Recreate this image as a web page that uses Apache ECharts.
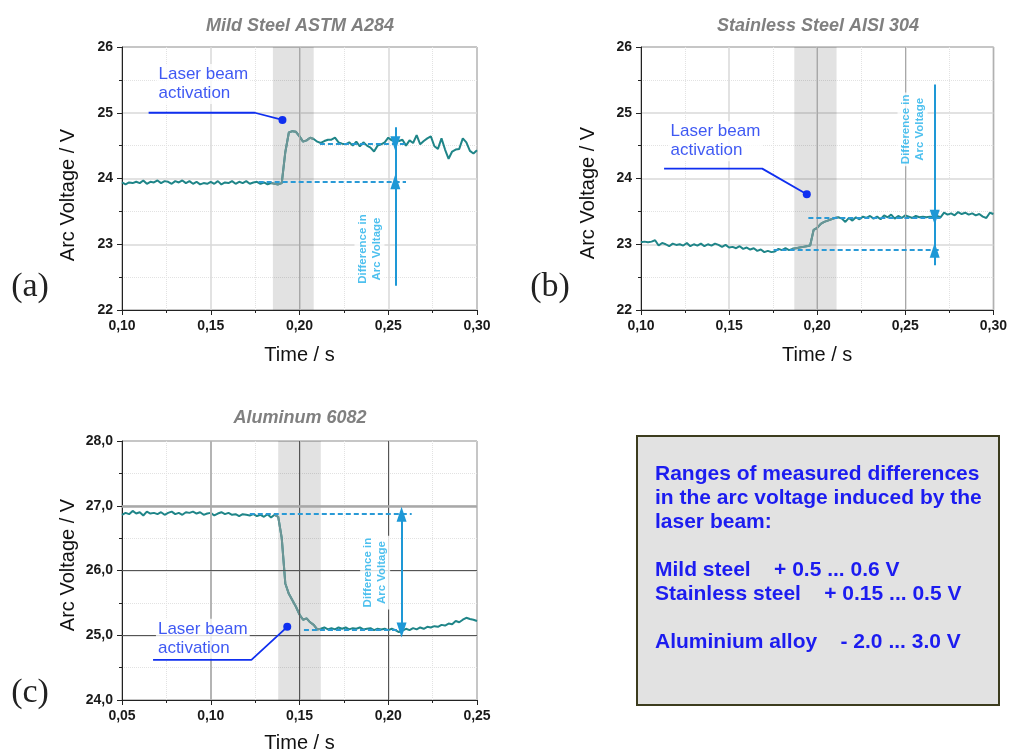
<!DOCTYPE html>
<html>
<head>
<meta charset="utf-8">
<script src="https://cdn.jsdelivr.net/npm/echarts@6.0.0/dist/echarts.min.js"></script>
<style>
  html, body { margin: 0; padding: 0; background: #fff; }
  #main { width: 1010px; height: 754px; }
</style>
</head>
<body>
<div id="main"></div>
<script>
// sampling of the recorded voltage traces
var dt = 0.002;
var timeStartA = 0.10;
var timeStartB = 0.10;
var timeStartC = 0.05;

// (a) mild steel, arc voltage in V, one value every 2 ms from 0.10 s
var voltageA = [
  23.94, 23.91, 23.94, 23.93, 23.95, 23.93, 23.97, 23.92, 23.95, 23.94,
  23.97, 23.93, 23.96, 23.95, 23.92, 23.96, 23.94, 23.97, 23.93, 23.96,
  23.92, 23.95, 23.91, 23.93, 23.92, 23.95, 23.92, 23.96, 23.91, 23.94,
  23.93, 23.96, 23.92, 23.95, 23.93, 23.96, 23.92, 23.94, 23.95, 23.92,
  23.94, 23.91, 23.93, 23.92, 23.91, 23.93, 24.40, 24.70, 24.72, 24.71,
  24.64, 24.56, 24.58, 24.62, 24.60, 24.56, 24.54, 24.57, 24.59, 24.59,
  24.62, 24.55, 24.53, 24.52, 24.55, 24.50, 24.56, 24.49, 24.55, 24.50,
  24.47, 24.41, 24.50, 24.52, 24.55, 24.62, 24.58, 24.61, 24.57, 24.59,
  24.50, 24.58, 24.54, 24.66, 24.52, 24.57, 24.61, 24.64, 24.49, 24.45,
  24.61, 24.44, 24.30, 24.41, 24.44, 24.45, 24.61, 24.55, 24.42, 24.38,
  24.43
];

// (b) stainless steel
var voltageB = [
  23.03, 23.04, 23.03, 23.04, 23.06, 22.98, 23.02, 23.00, 22.97, 23.01,
  22.99, 23.00, 22.98, 23.02, 22.97, 23.00, 22.98, 23.01, 22.97, 23.00,
  22.98, 23.01, 22.99, 22.96, 22.99, 22.95, 22.96, 22.94, 22.97, 22.93,
  22.95, 22.92, 22.94, 22.90, 22.92, 22.88, 22.90, 22.88, 22.89, 22.93,
  22.91, 22.94, 22.91, 22.93, 22.94, 22.95, 22.96, 22.97, 22.98, 23.22,
  23.25, 23.31, 23.34, 23.36, 23.38, 23.40, 23.41, 23.39, 23.34, 23.40,
  23.36, 23.41, 23.38, 23.42, 23.40, 23.43, 23.39, 23.42, 23.38, 23.44,
  23.41, 23.45, 23.39, 23.43, 23.40, 23.44, 23.42, 23.40, 23.43, 23.41,
  23.42, 23.41, 23.42, 23.41, 23.43, 23.41, 23.48, 23.45, 23.47, 23.44,
  23.49, 23.46, 23.48, 23.45, 23.47, 23.44, 23.46, 23.42, 23.40, 23.48,
  23.46
];

// (c) aluminum, from 0.05 s
var voltageC = [
  26.86, 26.89, 26.87, 26.92, 26.88, 26.90, 26.85, 26.91, 26.88, 26.89,
  26.87, 26.90, 26.86, 26.89, 26.91, 26.87, 26.89, 26.86, 26.90, 26.89,
  26.91, 26.88, 26.90, 26.86, 26.88, 26.89, 26.85, 26.88, 26.90, 26.87,
  26.89, 26.86, 26.87, 26.84, 26.87, 26.86, 26.85, 26.87, 26.84, 26.86,
  26.83, 26.87, 26.82, 26.86, 26.83, 26.50, 25.80, 25.64, 25.54, 25.44,
  25.32, 25.24, 25.26, 25.20, 25.16, 25.09, 25.10, 25.12, 25.09, 25.11,
  25.09, 25.12, 25.10, 25.12, 25.09, 25.11, 25.10, 25.12, 25.09, 25.10,
  25.11, 25.08, 25.10, 25.09, 25.10, 25.08, 25.10, 25.08, 25.05, 25.07,
  25.10, 25.08, 25.11, 25.09, 25.12, 25.10, 25.13, 25.12, 25.14, 25.13,
  25.16, 25.15, 25.18, 25.17, 25.22, 25.20, 25.24, 25.27, 25.25, 25.24,
  25.22
];

// laser activation window (s) and the voltage levels before / after it (V)
var laserWindowA = [0.185, 0.208];
var laserWindowB = [0.187, 0.211];
var laserWindowC = [0.138, 0.162];
var levelsA = [23.95, 24.53];
var levelsB = [22.91, 23.41];
var levelsC = [26.87, 25.08];

var summaryLines = [
  'Ranges of measured differences',
  'in the arc voltage induced by the',
  'laser beam:',
  '',
  'Mild steel    + 0.5 ... 0.6 V',
  'Stainless steel    + 0.15 ... 0.5 V',
  '',
  'Aluminium alloy    - 2.0 ... 3.0 V'
];

var FONT = '"Liberation Sans", Arial, Helvetica, sans-serif';
var TEAL = '#1f8588';
var TRANS = '#6c9595';
var BLUE = '#0f2ff0';
var CYAN = '#1e98d6';
var CYAN_TEXT = '#22b0ea';

var panels = [
  {
    letter: '(a)', letterPos: [30, 287],
    title: 'Mild Steel ASTM A284', titlePos: [300, 26],
    yNamePos: [68, 195],
    grid: { left: 122, top: 47, width: 355, height: 263 },
    xMin: 0.10, xMax: 0.30, yMin: 22, yMax: 26, yDigits: 0, xNameGap: 35,
    t0: timeStartA, volt: voltageA, laser: laserWindowA, levels: levelsA,
    dashBefore: [0.177, 0.260], dashAfter: [0.2115, 0.260],
    arrow: { x: 0.254, low: 22.37, high: 24.78 },
    diffText: [0.2397, 22.92], laserText: [0.1197, 25.43],
    leader: [[0.115, 25.0], [0.1748, 25.0], [0.1904, 24.89]],
    darkLines: [{ xAxis: 0.20, color: '#a8a8a8', width: 1 }]
  },
  {
    letter: '(b)', letterPos: [550, 287],
    title: 'Stainless Steel AISI 304', titlePos: [818, 26],
    yNamePos: [588, 193],
    grid: { left: 641, top: 47, width: 355, height: 263 },
    xMin: 0.10, xMax: 0.30, yMin: 22, yMax: 26, yDigits: 0, xNameGap: 35,
    t0: timeStartB, volt: voltageB, laser: laserWindowB, levels: levelsB,
    dashBefore: [0.1753, 0.270], dashAfter: [0.195, 0.270],
    arrow: { x: 0.2667, low: 22.68, high: 25.43 },
    diffText: [0.2544, 24.74], laserText: [0.1159, 24.56],
    leader: [[0.1131, 24.15], [0.1688, 24.15], [0.1941, 23.76]],
    darkLines: [{ xAxis: 0.20, color: '#a8a8a8', width: 1 }, { xAxis: 0.25, color: '#a8a8a8', width: 1 }]
  },
  {
    letter: '(c)', letterPos: [30, 693],
    title: 'Aluminum 6082', titlePos: [300, 418],
    yNamePos: [68, 565],
    grid: { left: 122, top: 441, width: 355, height: 263 },
    xMin: 0.05, xMax: 0.25, yMin: 24, yMax: 28, yDigits: 1, xNameGap: 33,
    t0: timeStartC, volt: voltageC, laser: laserWindowC, levels: levelsC,
    dashBefore: [0.122, 0.2132], dashAfter: [0.1525, 0.2075],
    arrow: { x: 0.2075 },
    diffText: [0.1929, 25.96], laserText: [0.0694, 24.94],
    leader: [[0.0675, 24.62], [0.1229, 24.62], [0.1431, 25.13]],
    darkLines: [
      { yAxis: 27, color: '#a8a8a8', width: 2.5 },
      { yAxis: 26, color: '#555', width: 1 },
      { yAxis: 25, color: '#555', width: 1 },
      { xAxis: 0.10, color: '#b4b4b4', width: 2 },
      { xAxis: 0.15, color: '#555', width: 1 },
      { xAxis: 0.20, color: '#555', width: 1 }
    ]
  }
];

function comma(digits) {
  return function (v) { return v.toFixed(digits).replace('.', ','); };
}

function toPairs(t0, values) {
  return values.map(function (v, i) { return [+(t0 + i * dt).toFixed(4), v]; });
}

function segment(x0, y0, x1, y1, style, endSymbol, startSymbol) {
  return [
    { coord: [x0, y0], symbol: startSymbol || 'none', symbolSize: [10, 15], lineStyle: style },
    { coord: [x1, y1], symbol: endSymbol || 'none', symbolSize: [10, 15] }
  ];
}

var grids = [], xAxes = [], yAxes = [], series = [], graphics = [];

panels.forEach(function (p, i) {
  grids.push(Object.assign({ show: true, borderColor: '#222', borderWidth: 1, backgroundColor: 'transparent' }, p.grid));

  var common = {
    type: 'value', gridIndex: i,
    axisLine: { onZero: false, lineStyle: { color: '#222', width: 1 } },
    axisTick: { length: 5, lineStyle: { color: '#222' } },
    minorTick: { show: true, splitNumber: 2, length: 3, lineStyle: { color: '#222' } },
    splitLine: { show: true, lineStyle: { color: '#d8d8d8', width: 1.5 } },
    minorSplitLine: { show: true, lineStyle: { color: '#e2e2e2', type: 'dotted', width: 1 } }
  };
  xAxes.push(Object.assign({}, common, {
    min: p.xMin, max: p.xMax, interval: 0.05,
    name: 'Time / s', nameLocation: 'middle', nameGap: p.xNameGap,
    nameTextStyle: { fontFamily: FONT, fontSize: 20, color: '#111' },
    axisLabel: { formatter: comma(2), fontFamily: FONT, fontSize: 14, fontWeight: 'bold', color: '#1a1a1a', margin: 9 }
  }));
  yAxes.push(Object.assign({}, common, {
    min: p.yMin, max: p.yMax, interval: 1,
    axisLabel: { formatter: comma(p.yDigits), fontFamily: FONT, fontSize: 14, fontWeight: 'bold', color: '#1a1a1a', margin: 9 }
  }));

  var data = toPairs(p.t0, p.volt);
  var transition = data.filter(function (d) {
    return d[0] >= p.laser[0] - dt && d[0] <= p.laser[1] + dt / 2;
  });

  // dashed levels, arrows and the darker grid lines
  var dash = { color: '#2a9ad6', type: [5, 3], width: 2 };
  var arr = { color: CYAN, type: 'solid', width: 2 };
  var lines = [
    segment(p.dashBefore[0], p.levels[0], p.dashBefore[1], p.levels[0], dash),
    segment(p.dashAfter[0], p.levels[1], p.dashAfter[1], p.levels[1], dash)
  ];
  if (p.arrow.low != null) {
    lines.push(segment(p.arrow.x, p.arrow.low, p.arrow.x, p.levels[0], arr, 'triangle'));
    lines.push(segment(p.arrow.x, p.levels[0], p.arrow.x, p.levels[1], arr));
    lines.push(segment(p.arrow.x, p.arrow.high, p.arrow.x, p.levels[1], arr, 'triangle'));
  } else {
    lines.push(segment(p.arrow.x, p.levels[0], p.arrow.x, p.levels[1], arr, 'triangle', 'triangle'));
  }
  p.darkLines.forEach(function (d) {
    var item = { lineStyle: { color: d.color, width: d.width, type: 'solid' } };
    if (d.xAxis != null) item.xAxis = d.xAxis; else item.yAxis = d.yAxis;
    lines.unshift(item);
  });

  series.push({
    type: 'line', xAxisIndex: i, yAxisIndex: i, data: data,
    symbol: 'none', silent: true, z: 3,
    lineStyle: { color: TEAL, width: 2 }, itemStyle: { color: TEAL },
    markArea: {
      silent: true, itemStyle: { color: 'rgba(0,0,0,0.115)' },
      data: [[{ xAxis: p.laser[0] }, { xAxis: p.laser[1] }]]
    }
  });
  series.push({
    type: 'line', xAxisIndex: i, yAxisIndex: i, data: transition,
    symbol: 'none', silent: true, z: 4,
    lineStyle: { color: TRANS, width: 2 }, itemStyle: { color: TRANS },
    markLine: { silent: true, symbol: 'none', label: { show: false }, data: lines }
  });
  series.push({
    type: 'line', xAxisIndex: i, yAxisIndex: i, silent: true, z: 6,
    symbol: 'none', showSymbol: true,
    data: [p.leader[0], p.leader[1], { value: p.leader[2], symbol: 'circle', symbolSize: 8 }],
    lineStyle: { color: BLUE, width: 1.8 }, itemStyle: { color: BLUE }
  });
  series.push({
    type: 'scatter', xAxisIndex: i, yAxisIndex: i, silent: true, z: 7,
    symbolSize: 1, itemStyle: { color: 'rgba(0,0,0,0)' },
    data: [
      {
        value: p.laserText,
        label: {
          show: true, position: [0, 0], align: 'left', verticalAlign: 'middle',
          formatter: 'Laser beam\nactivation', fontFamily: FONT, fontSize: 17, lineHeight: 19,
          color: BLUE, backgroundColor: '#fff', padding: [1, 2]
        }
      },
      {
        value: p.diffText,
        label: {
          show: true, position: [0, 0], align: 'center', verticalAlign: 'middle', rotate: 90,
          formatter: 'Difference in\nArc Voltage', fontFamily: FONT, fontSize: 11.5, fontWeight: 'bold',
          lineHeight: 14, color: CYAN_TEXT, backgroundColor: '#fff', padding: [1, 2]
        }
      }
    ]
  });

  graphics.push({
    type: 'text', x: p.titlePos[0], y: p.titlePos[1], silent: true,
    style: {
      text: p.title, fill: '#808080', font: 'italic bold 18px ' + FONT,
      align: 'center', verticalAlign: 'middle', textAlign: 'center', textVerticalAlign: 'middle'
    }
  });
  graphics.push({
    type: 'text', x: p.yNamePos[0], y: p.yNamePos[1], rotation: Math.PI / 2, silent: true,
    style: {
      text: 'Arc Voltage / V', fill: '#111', font: '20px ' + FONT,
      align: 'center', verticalAlign: 'middle', textAlign: 'center', textVerticalAlign: 'middle'
    }
  });
  graphics.push({
    type: 'text', x: p.letterPos[0], y: p.letterPos[1], silent: true,
    style: {
      text: p.letter, fill: '#222', font: '34px "Liberation Serif", "Times New Roman", serif',
      align: 'center', verticalAlign: 'middle', textAlign: 'center', textVerticalAlign: 'middle'
    }
  });
});

graphics.push({
  type: 'rect', silent: true,
  shape: { x: 637, y: 436, width: 362, height: 269 },
  style: { fill: '#e2e2e2', stroke: '#3c3c1e', lineWidth: 2 }
});
graphics.push({
  type: 'text', x: 655, y: 462, silent: true,
  style: {
    text: summaryLines.join('\n'), fill: '#1c1cf0', font: 'bold 21px ' + FONT, lineHeight: 24,
    align: 'left', verticalAlign: 'top', textAlign: 'left', textVerticalAlign: 'top'
  }
});

var chart = echarts.init(document.getElementById('main'));
chart.setOption({
  animation: false,
  backgroundColor: '#fff',
  grid: grids,
  xAxis: xAxes,
  yAxis: yAxes,
  series: series,
  graphic: graphics
});
</script>
</body>
</html>
